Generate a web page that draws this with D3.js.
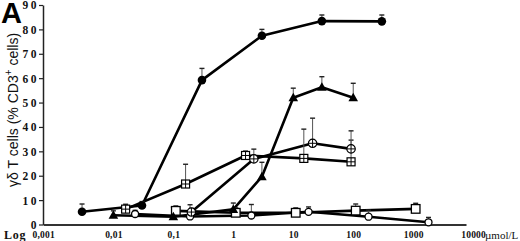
<!DOCTYPE html>
<html><head><meta charset="utf-8">
<script src="https://cdn.jsdelivr.net/npm/d3@7"></script>
<style>
html,body{margin:0;padding:0;background:#fff;}
svg{display:block;}
</style></head>
<body>
<svg id="c" width="520" height="241"></svg>
<script>
// ---- data ----
const yTicks = [0,10,20,30,40,50,60,70,80,90];
const xTicks = [0.001,0.01,0.1,1,10,100,1000,10000];
const xTickLabels = ["0,001","0,01","0,1","1","10","100","1000","10000"];

const filledCircleX = [0.003,0.03,0.3,3,30,300];
const filledCircleY = [5.2,7.8,59.2,77.4,83.4,83.3];
const filledCircleErr = [3.2,1.6,4.8,2.6,2.5,2.6];

const triangleX = [0.01,0.1,1,3,10,30,100];
const triangleY = [3.8,3.2,6.2,19.6,52.0,56.3,52.0];
const triangleErr = [1.8,3.9,2.6,5.9,3.9,4.3,5.9];

const crossSquareX = [0.016,0.16,1.6,15,92];
const crossSquareY = [6.3,16.6,28.3,27.1,25.7];
const crossSquareErr = [2.0,8.1,1.8,12.0,8.9];

const crossCircleX = [0.2,2.2,21,92];
const crossCircleY = [5.1,26.9,33.3,31.0];
const crossCircleErr = [1.5,4.0,10.3,7.4];

const openCircleX = [0.023,0.19,2,18,180,1800];
const openCircleY = [4.3,3.3,3.7,5.2,3.2,0.9];
const openCircleErr = [1.5,4.8,4.5,2.0,2.7,2.0];

const openSquareX = [0.11,1.1,11,110,1100];
const openSquareY = [5.6,4.8,4.8,5.7,6.4];
const openSquareErr = [2.0,2.0,2.0,2.7,2.3];

const series = [
  {x:openSquareX, y:openSquareY, e:openSquareErr, m:"openSquare"},
  {x:openCircleX, y:openCircleY, e:openCircleErr, m:"openCircle"},
  {x:crossSquareX, y:crossSquareY, e:crossSquareErr, m:"crossSquare"},
  {x:crossCircleX, y:crossCircleY, e:crossCircleErr, m:"crossCircle"},
  {x:triangleX, y:triangleY, e:triangleErr, m:"triangle"},
  {x:filledCircleX, y:filledCircleY, e:filledCircleErr, m:"filledCircle"}
];

// ---- chart ----
const svg = d3.select("#c");
const x = d3.scaleLog().domain([0.00067, 7600]).range([43, 466]);
const y = d3.scaleLinear().domain([0, 90]).range([224.5, 5]);

// y axis
const ya = svg.append("g").attr("transform","translate(43,0)")
  .call(d3.axisLeft(y).tickValues(yTicks).tickSize(4).tickSizeOuter(0).tickFormat(d3.format("d")));
ya.select(".domain").attr("stroke","#222").attr("stroke-width",1.5);
ya.selectAll(".tick line").attr("stroke","#222").attr("stroke-width",1.2);
ya.selectAll(".tick text").attr("font-family","'Liberation Serif',serif").attr("font-weight","bold")
  .attr("font-size",11.5).attr("letter-spacing","2.5px").attr("fill","#111").attr("x",-4).attr("dy","0.34em");

// x axis
const xa = svg.append("g").attr("transform","translate(0,224.5)")
  .call(d3.axisBottom(x).tickValues(xTicks).tickSize(0).tickSizeOuter(0)
    .tickFormat((d,i)=>xTickLabels[i]));
xa.select(".domain").attr("stroke","#333").attr("stroke-width",2);
xa.selectAll(".tick text").attr("font-family","'Liberation Serif',serif").attr("font-weight","bold")
  .attr("font-size",9.5).attr("letter-spacing","0.2px").attr("fill","#111").attr("y",7).attr("dy","0.71em");
xa.selectAll(".tick text").filter((d,i)=>i===0).attr("text-anchor","end").attr("dx","1px");

svg.append("text").attr("x",4).attr("y",238.5).text("Log")
  .attr("font-family","'Liberation Serif',serif").attr("font-weight","bold").attr("font-size",12)
  .attr("letter-spacing","0.8px").attr("fill","#111");
svg.append("text").attr("x",485).attr("y",238.5).text("µmol/L")
  .attr("font-family","'Liberation Serif',serif").attr("font-size",11).attr("fill","#111");

// y title
svg.append("text").attr("transform","translate(18,110) rotate(-90)").attr("text-anchor","middle")
  .attr("font-family","'Liberation Sans',Arial,sans-serif").attr("font-size",14).attr("fill","#111")
  .html("γδ T cells (% CD3<tspan dy='-6' font-size='10'>+</tspan><tspan dy='6'> cells)</tspan>");

// panel letter
svg.append("text").attr("x",1).attr("y",23).text("A")
  .attr("font-family","'Liberation Sans',Arial,sans-serif").attr("font-weight","bold").attr("font-size",29).attr("fill","#000");

const line = d3.line().x(d=>x(d[0])).y(d=>y(d[1]));

// lines
series.forEach(s=>{
  const pts = s.x.map((v,i)=>[v,s.y[i]]);
  svg.append("path").attr("d",line(pts)).attr("fill","none").attr("stroke","#000")
    .attr("stroke-width",2.6).attr("stroke-linejoin","round");
});

// error bars
series.forEach(s=>{
  s.x.forEach((v,i)=>{
    const cx = x(v), y0 = y(s.y[i]), y1 = y(s.y[i]+s.e[i]);
    svg.append("line").attr("x1",cx).attr("x2",cx).attr("y1",y0).attr("y2",y1).attr("stroke","#555").attr("stroke-width",1);
    svg.append("line").attr("x1",cx-2.5).attr("x2",cx+2.5).attr("y1",y1).attr("y2",y1).attr("stroke","#222").attr("stroke-width",1.4);
  });
});

// markers
series.forEach(s=>{
  s.x.forEach((v,i)=>{
    const cx = x(v), cy = y(s.y[i]);
    const g = svg.append("g").attr("transform",`translate(${cx},${cy})`);
    if (s.m==="filledCircle") {
      g.append("circle").attr("r",4.3).attr("fill","#000");
    } else if (s.m==="triangle") {
      g.append("path").attr("d","M0,-5L4.8,3.5L-4.8,3.5Z").attr("fill","#000");
    } else if (s.m==="crossSquare") {
      g.append("rect").attr("x",-4).attr("y",-4).attr("width",8).attr("height",8).attr("fill","#fff").attr("stroke","#000").attr("stroke-width",1.2);
      g.append("path").attr("d","M0,-4V4M-4,0H4").attr("stroke","#000").attr("stroke-width",1);
    } else if (s.m==="crossCircle") {
      g.append("circle").attr("r",4.2).attr("fill","#fff").attr("stroke","#000").attr("stroke-width",1.2);
      g.append("path").attr("d","M0,-4.2V4.2M-4.2,0H4.2").attr("stroke","#000").attr("stroke-width",1);
    } else if (s.m==="openSquare") {
      g.append("rect").attr("x",-4.3).attr("y",-4.3).attr("width",8.6).attr("height",8.6).attr("fill","#fff").attr("stroke","#000").attr("stroke-width",1.3);
    } else if (s.m==="openCircle") {
      g.append("circle").attr("r",3.5).attr("fill","#fff").attr("stroke","#000").attr("stroke-width",1.3);
    }
  });
});
</script>
</body></html>
